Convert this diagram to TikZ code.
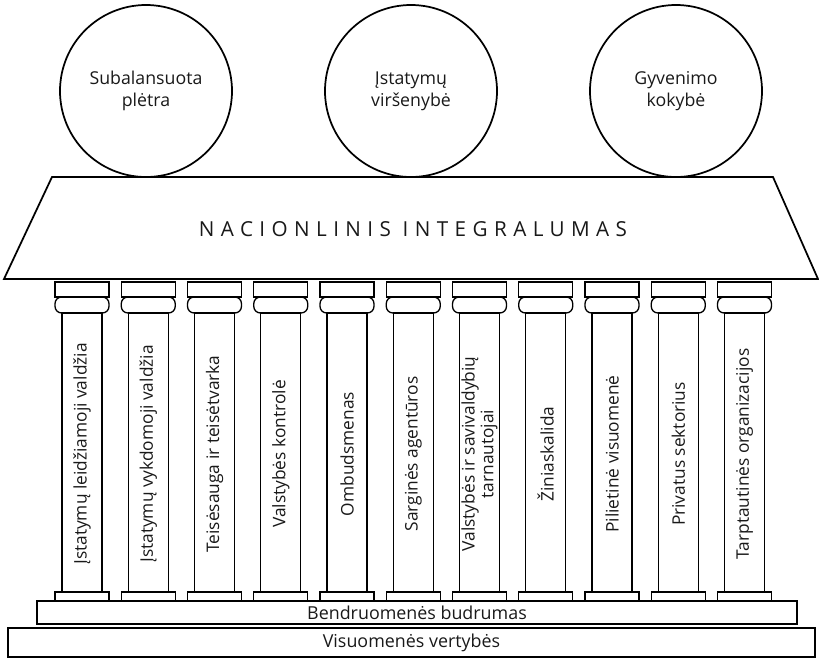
\documentclass[tikz,border=0pt]{standalone}
\usepackage{fontspec}
\setmainfont{Open Sans}
\usetikzlibrary{positioning, calc}

\begin{document}
\begin{tikzpicture}[x=0.75pt, y=-0.75pt, line join=miter,
    every node/.style={font=\fontsize{13}{14}\selectfont, text=black!90},
    goal/.style={draw, circle, line width=1.3pt, minimum size=129pt, inner sep=0pt, align=center,
        font=\fontsize{13.3}{16.5}\selectfont},
    shaft/.style={draw, line width=1pt, rotate=90, minimum width=209pt, minimum height=30pt, inner sep=1pt, align=center},
    part/.style={draw, line width=1pt},
    stepbox/.style={draw, line width=1.4pt, inner sep=0pt, align=center, font=\fontsize{13.4}{16}\selectfont}]

    \useasboundingbox (0,0) rectangle (819,661);

    % the three goals on top
    \node [goal] (SP) at (146,91) {Subalansuota\\plėtra};
    \node [goal] (IV) at (411,91) {Įstatymų\\viršenybė};
    \node [goal] (GK) at (676,91) {Gyvenimo\\kokybė};

    % roof
    \coordinate (RTL) at (52,177);
    \coordinate (RTR) at (773,177);
    \coordinate (RBR) at (818,279);
    \coordinate (RBL) at (4,279);
    \draw [line width=1.3pt, fill=white] (RTL) -- (RTR) -- (RBR) -- (RBL) -- cycle;
    \node (NI) at (413,229)
        [font=\fontsize{15.5}{18}\selectfont\addfontfeature{LetterSpace=31}]
        {NACIONLINIS INTEGRALUMAS};

    % columns
    \foreach \lbl [count=\i from 0] in {Įstatymų leidžiamoji valdžia, Įstatymų vykdomoji valdžia,
        Teisėsauga ir teisėtvarka, Valstybės kontrolė, Ombudsmenas, Sarginės agentūros,
        {Valstybės ir savivaldybių\\tarnautojai}, Žiniaskalida, Pilietinė visuomenė,
        Privatus sektorius, Tarptautinės organizacijos} {
        \pgfmathsetmacro\cx{82+66.25*\i}
        \draw [part] (\cx-27,282) rectangle (\cx+27,297);
        \draw [part, rounded corners=5pt] (\cx-27,297) rectangle (\cx+27,313);
        \draw [part] (\cx-20,313) rectangle (\cx+20,592);
        \node [shaft, draw=none] (col\i) at (\cx,454) {\lbl};
        \draw [part] (\cx-27,592) rectangle (\cx+27,601);
    }

    % steps
    \node [stepbox, minimum width=570pt, minimum height=17.5pt] (BB) at (417,612.5)
        {Bendruomenės budrumas};
    \node [stepbox, minimum width=605pt, minimum height=21.5pt] (VV) at (411.5,642.5)
        {Visuomenės vertybės};

\end{tikzpicture}
\end{document}
